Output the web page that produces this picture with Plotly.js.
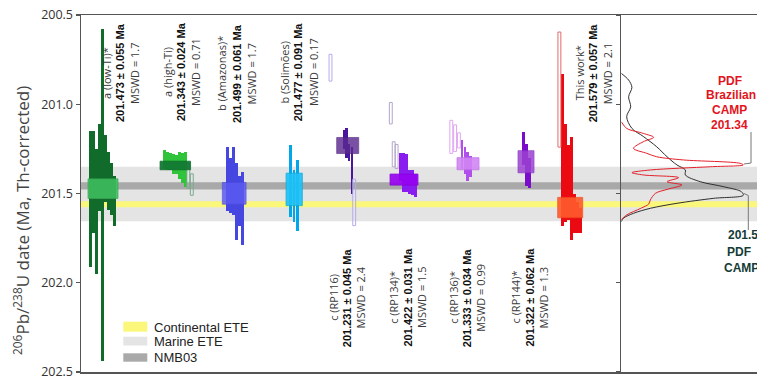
<!DOCTYPE html>
<html>
<head>
<meta charset="utf-8">
<script src="https://cdn.plot.ly/plotly-3.0.1.min.js"></script>
<style>
  html, body { margin: 0; padding: 0; background: #ffffff; }
  #chart { width: 757px; height: 379px; }
</style>
</head>
<body>
<div id="chart"></div>
<script>
// ---- Weighted-mean 206Pb/238U ages (Ma) and uncertainties per zircon population ----
const groupLabels = ['a (low-Ti)*', 'a (high-Ti)', 'b (Amazonas)*', 'b (Solimões)',
                     'c (RP116)', 'c (RP134)*', 'c (RP136)*', 'c (RP144)*', 'This work*'];
const groupMeans  = [201.473, 201.343, 201.499, 201.477, 201.231, 201.422, 201.333, 201.322, 201.579];
const groupErrs   = [0.055, 0.024, 0.061, 0.091, 0.045, 0.031, 0.034, 0.062, 0.057];
const groupMswd   = ['1.7', '0.71', '1.7', '0.17', '2.4', '1.5', '0.99', '1.3', '2.1'];

// ---- Single-grain dates [younger end, older end] of each uncertainty bar ----
const grainsLowTi    = [[201.15, 201.91], [201.15, 201.72], [201.25, 201.95], [201.11, 201.60],
                        [200.58, 202.44], [201.17, 201.55], [201.27, 201.59], [201.33, 201.62], [201.40, 201.68]];
const grainsHighTi   = [[201.255, 201.36], [201.27, 201.37], [201.275, 201.37], [201.28, 201.39],
                        [201.285, 201.39], [201.27, 201.42], [201.275, 201.44], [201.27, 201.465]];
const grainsAmazonas = [[201.24, 201.60], [201.30, 201.61], [201.24, 201.62], [201.33, 201.76],
                        [201.40, 201.68], [201.38, 201.79]];
const grainsSolimoes = [[201.23, 201.63], [201.37, 201.66], [201.31, 201.71]];
const grainsRP116    = [[201.145, 201.25], [201.135, 201.30], [201.22, 201.32], [201.24, 201.50]];
const grainsRP134    = [[201.275, 201.43], [201.275, 201.49], [201.28, 201.49], [201.37, 201.50],
                        [201.37, 201.51], [201.39, 201.52]];
const grainsRP136    = [[201.20, 201.36], [201.24, 201.39], [201.27, 201.43], [201.29, 201.41]];
const grainsRP144    = [[201.155, 201.34], [201.22, 201.46], [201.30, 201.47]];
const grainsThisWork = [[200.83, 201.68], [201.11, 201.66], [201.23, 201.65], [201.185, 201.76],
                        [201.50, 201.72], [201.55, 201.72], [201.58, 201.72]];

// ---- Grains left out of the weighted means (drawn open) ----
const excludedHighTi   = [[201.33, 201.47], [201.39, 201.51]];
const excludedRP116    = [[200.72, 200.87], [201.42, 201.68]];
const excludedRP134    = [[200.99, 201.11], [201.21, 201.35], [201.225, 201.36]];
const excludedRP136    = [[201.09, 201.275], [201.115, 201.265], [201.16, 201.245]];
const excludedThisWork = [[200.595, 201.24]];

// ---- Reference age bands (Ma) ----
const bandMarineETE      = [201.35, 201.655];
const bandNMB03          = [201.437, 201.477];
const bandContinentalETE = [201.543, 201.577];

// ---- Probability density curves (relative density vs age) ----
const pdfCampAge     = [200.827, 200.864, 200.905, 200.958, 201.014, 201.07, 201.135, 201.18, 201.238, 201.294,
                        201.34, 201.368, 201.396, 201.434, 201.462, 201.49, 201.51, 201.527, 201.555, 201.583,
                        201.611, 201.639, 201.658];
const pdfCampDensity = [0, 0.06, 0.087, 0.06, 0.077, 0.044, 0.087, 0.18, 0.29, 0.375,
                        0.456, 0.525, 0.525, 0.648, 0.84, 0.985, 1.0, 0.757, 0.456, 0.238,
                        0.10, 0.016, 0];
const pdfBrazAge     = [201.098, 201.135, 201.163, 201.185, 201.21, 201.247, 201.275, 201.294, 201.312, 201.331,
                        201.34, 201.35, 201.368, 201.383, 201.396, 201.411, 201.434, 201.452, 201.477, 201.499,
                        201.536, 201.559, 201.583, 201.62, 201.648];
const pdfBrazDensity = [0, 0.044, 0.18, 0.265, 0.18, 0.10, 0.21, 0.29, 0.51, 0.975,
                        1.0, 0.73, 0.24, 0.087, 0.18, 0.47, 0.375, 0.497, 0.375, 0.28,
                        0.238, 0.225, 0.16, 0.044, 0];
const pdfCampPeak = '201.51';
const pdfBrazPeak = '201.34';

// ---- Age axis ticks ----
const ageTicks = [200.5, 201.0, 201.5, 202.0, 202.5];

// ---- Drawing layout: main-panel x units equal page pixels ----
const grainSets = [grainsLowTi, grainsHighTi, grainsAmazonas, grainsSolimoes, grainsRP116,
                   grainsRP134, grainsRP136, grainsRP144, grainsThisWork];
const excludedSets = [[], excludedHighTi, [], [], excludedRP116, excludedRP134, excludedRP136, [], excludedThisWork];

const slots = [
  { start: 90.5,  pitch: 3.0, box: [103.0, 30.0], excl: [],                    text: [106, 120, 134], ty: 73 },
  { start: 164.5, pitch: 3.0, box: [175.3, 30.5], excl: [188.3, 191.8],        text: [167, 181, 195], ty: 72 },
  { start: 227.5, pitch: 3.0, box: [234.2, 23.7], excl: [],                    text: [222, 237, 251.5], ty: 74 },
  { start: 290.7, pitch: 3.3, box: [294.2, 16.3], excl: [],                    text: [283.5, 298.3, 313], ty: 72 },
  { start: 344.0, pitch: 2.6, box: [347.7, 22.0], excl: [330.5, 354.2],        text: [333.3, 346.7, 360], ty: 297.5 },
  { start: 400.5, pitch: 3.0, box: [404.0, 28.0], excl: [390.8, 393.7, 396.6], text: [393.3, 407, 421.5], ty: 297.5 },
  { start: 462.0, pitch: 2.8, box: [468.0, 22.0], excl: [451.3, 455.1, 458.9], text: [453.3, 466.7, 480.3], ty: 297.5 },
  { start: 523.3, pitch: 3.3, box: [526.0, 16.0], excl: [],                    text: [515, 529, 543], ty: 297.5 },
  { start: 562.5, pitch: 3.0, box: [570.2, 25.0], excl: [559.4],               text: [579.3, 593.3, 607.3], ty: 73 }
];

const styles = [
  { grain: '#116b2b', box: '#3fbd5f', boxOp: 0.9,  boxLine: '#38a855', excl: '#6aa383' },
  { grain: '#2fc43a', box: '#137a34', boxOp: 0.95, boxLine: '#0f6a2c', excl: '#78ab8c' },
  { grain: '#4646e0', box: '#5b5bf2', boxOp: 0.85, boxLine: '#4d4de0', excl: '#a0a0ee' },
  { grain: '#02a6ea', box: '#1ec2f7', boxOp: 0.92, boxLine: '#10a8dc', excl: '#90d8f4' },
  { grain: '#4a169e', box: '#5c2a90', boxOp: 0.82, boxLine: '#4f2280', excl: '#b4aceb' },
  { grain: '#8a1cf0', box: '#9703f0', boxOp: 0.92, boxLine: '#8600d8', excl: '#b3a6c8' },
  { grain: '#b14fea', box: '#d286f5', boxOp: 0.9,  boxLine: '#c070ea', excl: '#e2a6f2' },
  { grain: '#7a0dcc', box: '#9b42d2', boxOp: 0.85, boxLine: '#8a30c4', excl: '#c09ae0' },
  { grain: '#ec0a12', box: '#ff5b2d', boxOp: 0.9,  boxLine: '#f04a20', excl: '#e26a6a' }
];

const traces = [];
grainSets.forEach(function (grains, g) {
  const s = slots[g], st = styles[g];
  traces.push({
    type: 'bar', xaxis: 'x', yaxis: 'y', hoverinfo: 'skip', showlegend: false,
    x: grains.map(function (_, i) { return s.start + i * s.pitch; }),
    base: grains.map(function (d) { return d[0]; }),
    y: grains.map(function (d) { return d[1] - d[0]; }),
    width: s.pitch * 0.86,
    marker: { color: st.grain, line: { width: 0 } }
  });
  const ex = excludedSets[g];
  if (ex.length) {
    traces.push({
      type: 'bar', xaxis: 'x', yaxis: 'y', hoverinfo: 'skip', showlegend: false,
      x: s.excl,
      base: ex.map(function (d) { return d[0]; }),
      y: ex.map(function (d) { return d[1] - d[0]; }),
      width: 2.9,
      marker: { color: 'rgba(255,255,255,0)', line: { width: 1, color: st.excl } }
    });
  }
  traces.push({
    type: 'bar', xaxis: 'x', yaxis: 'y', hoverinfo: 'skip', showlegend: false,
    x: [s.box[0]],
    base: [groupMeans[g] - groupErrs[g]],
    y: [2 * groupErrs[g]],
    width: s.box[1],
    opacity: st.boxOp,
    marker: { color: st.box, line: { width: 0.8, color: st.boxLine } }
  });
});

traces.push({
  type: 'scatter', mode: 'lines', xaxis: 'x2', yaxis: 'y2', hoverinfo: 'skip', showlegend: false,
  x: pdfCampDensity, y: pdfCampAge,
  line: { color: '#2e2e2e', width: 1, shape: 'spline', smoothing: 0.9 }
});
traces.push({
  type: 'scatter', mode: 'lines', xaxis: 'x2', yaxis: 'y2', hoverinfo: 'skip', showlegend: false,
  x: pdfBrazDensity, y: pdfBrazAge,
  line: { color: '#e3202a', width: 1, shape: 'spline', smoothing: 0.9 }
});

// ---- Page-pixel helpers for shapes and annotations ----
const PL = 81, PR = 757, PT = 15, PB = 372;
const splitPx = 621.3;
function px(x) { return (x - PL) / (PR - PL); }
function py(y) { return (PB - y) / (PB - PT); }

const shapes = [];
function band(range, color) {
  shapes.push({ type: 'rect', layer: 'below', xref: 'paper', yref: 'y', x0: 0, x1: 1,
                y0: range[0], y1: range[1], fillcolor: color, line: { width: 0 } });
}
band(bandMarineETE, '#e4e4e4');
band(bandNMB03, '#a9a9a9');
band(bandContinentalETE, '#fbf77a');

// legend swatches
const legendRows = [
  { text: 'Continental ETE', color: '#fbf77a', y0: 321.7, y1: 331.7, ty: 327 },
  { text: 'Marine ETE',      color: '#e4e4e4', y0: 336.7, y1: 345.5, ty: 341.5 },
  { text: 'NMB03',           color: '#a9a9a9', y0: 353.3, y1: 361.7, ty: 357.5 }
];
legendRows.forEach(function (r) {
  shapes.push({ type: 'rect', xref: 'paper', yref: 'paper', x0: px(123.3), x1: px(147.3),
                y0: py(r.y1), y1: py(r.y0), fillcolor: r.color, line: { width: 0 } });
});

// leader lines from the PDF peaks to their labels
shapes.push({ type: 'path', xref: 'paper', yref: 'paper',
  path: 'M' + px(744) + ',' + py(164) + ' L' + px(751) + ',' + py(163) + ' L' + px(751) + ',' + py(132),
  line: { color: '#777777', width: 1 } });
shapes.push({ type: 'path', xref: 'paper', yref: 'paper',
  path: 'M' + px(744) + ',' + py(193.5) + ' L' + px(748.3) + ',' + py(195.5) + ' L' + px(748.3) + ',' + py(230),
  line: { color: '#777777', width: 1 } });

const annotations = [];
function note(text, x, y, font, extra) {
  const a = Object.assign({ text: text, xref: 'paper', yref: 'paper', x: px(x), y: py(y),
    xanchor: 'center', yanchor: 'middle', showarrow: false, font: font }, extra || {});
  annotations.push(a);
}
const labelFont = { family: 'Open Sans, sans-serif', size: 11, color: '#3a3a3a' };
const valueFont = { family: 'Liberation Sans, Arial, sans-serif', size: 11, color: '#111111' };

groupLabels.forEach(function (lab, g) {
  const s = slots[g];
  note(lab, s.text[0], s.ty, labelFont, { textangle: -90 });
  note('<b>' + groupMeans[g].toFixed(3) + ' ± ' + groupErrs[g].toFixed(3) + ' Ma</b>', s.text[1], s.ty, valueFont, { textangle: -90 });
  note('MSWD = ' + groupMswd[g], s.text[2], s.ty, labelFont, { textangle: -90 });
});

legendRows.forEach(function (r) {
  note(r.text, 151.5, r.ty, { family: 'Liberation Sans, Arial, sans-serif', size: 13, color: '#222222' },
       { xanchor: 'left' });
});

const redFont = { family: 'Liberation Sans Narrow, Liberation Sans, Arial, sans-serif', size: 12, color: '#e3141c' };
const darkFont = { family: 'Liberation Sans Narrow, Liberation Sans, Arial, sans-serif', size: 12, color: '#143c37' };
note('<b>PDF</b>', 730, 81, redFont);
note('<b>Brazilian</b>', 731, 95.5, redFont);
note('<b>CAMP</b>', 729, 110, redFont);
note('<b>' + pdfBrazPeak + '</b>', 729, 124.5, redFont);
note('<b>' + pdfCampPeak + '</b>', 746, 235, darkFont);
note('<b>PDF</b>', 739, 252, darkFont);
note('<b>CAMP</b>', 741, 267.5, darkFont);

// y-axis title
note('<sup>206</sup>Pb/<sup>238</sup>U date (Ma, Th-corrected)', 22, 221,
     { family: 'Open Sans, sans-serif', size: 17, color: '#444444' }, { textangle: -90 });

const axisLine = '#555555';
const layout = {
  width: 757, height: 379,
  margin: { l: PL, r: 757 - PR, t: PT, b: 379 - PB },
  paper_bgcolor: '#ffffff', plot_bgcolor: 'rgba(0,0,0,0)',
  barmode: 'overlay', bargap: 0,
  showlegend: false,
  xaxis: {
    domain: [0, px(splitPx)], range: [PL, splitPx], anchor: 'y',
    showline: true, mirror: true, linecolor: axisLine, linewidth: 1.5,
    showgrid: false, zeroline: false, showticklabels: false, ticks: '', fixedrange: true
  },
  yaxis: {
    domain: [0, 1], range: [202.5005, 200.4995], anchor: 'x',
    showline: true, linecolor: axisLine, linewidth: 1.5,
    ticks: 'outside', ticklen: 4, tickwidth: 1.5, tickcolor: axisLine,
    tickmode: 'array', tickvals: ageTicks, ticktext: ageTicks.map(function (t) { return t.toFixed(1); }),
    ticklabeloverflow: 'allow',
    tickfont: { family: 'Open Sans, sans-serif', size: 12.5, color: '#333333' },
    showgrid: false, zeroline: false, fixedrange: true
  },
  xaxis2: {
    domain: [px(splitPx), 1], range: [0, (PR - splitPx) / 122], anchor: 'y2',
    showline: true, mirror: true, linecolor: axisLine, linewidth: 1.5,
    showgrid: false, zeroline: false, showticklabels: false, ticks: '', fixedrange: true
  },
  yaxis2: {
    domain: [0, 1], range: [202.5005, 200.4995], anchor: 'x2',
    showline: true, linecolor: axisLine, linewidth: 1.5,
    ticks: 'outside', ticklen: 4, tickwidth: 1.5, tickcolor: axisLine,
    tickmode: 'array', tickvals: ageTicks, showticklabels: false,
    showgrid: false, zeroline: false, fixedrange: true
  },
  shapes: shapes,
  annotations: annotations
};

Plotly.newPlot('chart', traces, layout, { staticPlot: true, displayModeBar: false });
</script>
</body>
</html>
